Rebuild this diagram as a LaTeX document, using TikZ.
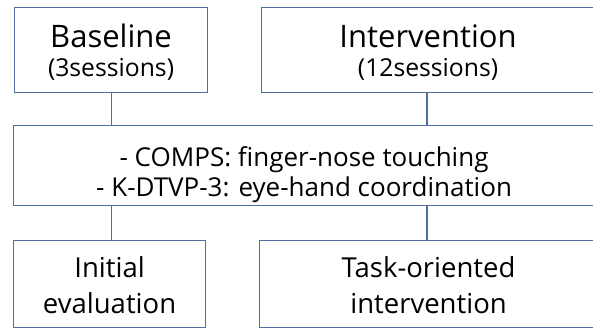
\documentclass[tikz,border=0pt]{standalone}
\usepackage{fontspec}
\setmainfont{Open Sans}
\definecolor{boxline}{RGB}{80,110,160}
\tikzset{
  box/.style={draw=boxline, line width=1.1pt, rectangle, inner sep=0pt, align=center, anchor=north west},
  link/.style={draw=boxline, line width=1.1pt},
  big/.style={font=\fontsize{31}{29}\selectfont, text height=69pt, text depth=16pt},
  mid/.style={font=\fontsize{26}{30}\selectfont, text height=71pt, text depth=9pt},
  low/.style={font=\fontsize{27.5}{36}\selectfont, text height=73pt, text depth=14pt},
}
\begin{document}
\begin{tikzpicture}[x=1pt,y=-1pt]
\useasboundingbox (0,0) rectangle (593,327);
\clip (0,0) rectangle (593,327);
\node[box, big, minimum width=193pt] (base) at (14,7)
  {Baseline\\{\fontsize{24.7}{29}\selectfont (3sessions)}};
\node[box, big, minimum width=333pt] (inter) at (261,7)
  {Intervention\\{\fontsize{24.7}{29}\selectfont (12sessions)}};
\node[box, mid, minimum width=581pt] (meas) at (13,125)
  {- COMPS: finger-nose touching\\- K-DTVP-3: eye-hand coordination};
\node[box, low, minimum width=192pt] (init) at (13,240)
  {Initial\\evaluation};
\node[box, low, minimum width=338pt] (task) at (259,240)
  {Task-oriented\\intervention};
\coordinate (c2t) at (427,92);
\draw[link] (base.south) -- (base.south |- meas.north);
\draw[link] (c2t) -- (c2t |- meas.north);
\draw[link] (base.south |- meas.south) -- (base.south |- init.north);
\draw[link] (c2t |- meas.south) -- (c2t |- task.north);
\end{tikzpicture}
\end{document}
